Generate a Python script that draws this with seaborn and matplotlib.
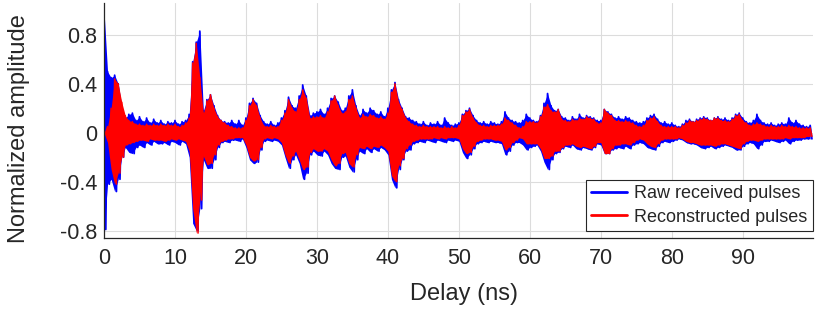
import numpy as np
import pandas as pd
import matplotlib
matplotlib.use("Agg")
import matplotlib.pyplot as plt
import seaborn as sns

# Envelope of the received pulse trains, every 0.5 ns
delay_ns = np.arange(0, 100, 0.5)

raw_hi = [
    1.00, 0.50, 0.45, 0.47, 0.40, 0.22, 0.12, 0.15, 0.16, 0.10, 0.13, 0.09, 0.12, 0.08, 0.11, 0.08, 0.10, 0.07, 0.09, 0.08,
    0.10, 0.07, 0.09, 0.10, 0.15, 0.58, 0.74, 0.83, 0.18, 0.27, 0.31, 0.22, 0.14, 0.10, 0.09, 0.08, 0.10, 0.07, 0.10, 0.06,
    0.12, 0.24, 0.28, 0.24, 0.14, 0.09, 0.07, 0.09, 0.06, 0.08, 0.12, 0.18, 0.29, 0.22, 0.20, 0.30, 0.39, 0.30, 0.14, 0.16,
    0.17, 0.19, 0.15, 0.20, 0.28, 0.30, 0.25, 0.18, 0.20, 0.30, 0.35, 0.22, 0.14, 0.19, 0.16, 0.20, 0.18, 0.15, 0.17, 0.13,
    0.20, 0.35, 0.41, 0.27, 0.20, 0.13, 0.12, 0.10, 0.09, 0.07, 0.09, 0.06, 0.08, 0.07, 0.09, 0.06, 0.12, 0.08, 0.06, 0.07,
    0.08, 0.15, 0.18, 0.20, 0.14, 0.10, 0.08, 0.09, 0.07, 0.09, 0.08, 0.07, 0.09, 0.17, 0.12, 0.10, 0.09, 0.08, 0.10, 0.15,
    0.12, 0.10, 0.09, 0.14, 0.24, 0.32, 0.22, 0.18, 0.19, 0.13, 0.12, 0.10, 0.13, 0.11, 0.15, 0.12, 0.14, 0.13, 0.12, 0.10,
    0.10, 0.19, 0.17, 0.15, 0.12, 0.13, 0.11, 0.13, 0.12, 0.10, 0.09, 0.08, 0.09, 0.12, 0.14, 0.15, 0.11, 0.08, 0.09, 0.07,
    0.08, 0.06, 0.05, 0.07, 0.10, 0.11, 0.09, 0.11, 0.12, 0.13, 0.12, 0.10, 0.12, 0.13, 0.11, 0.12, 0.10, 0.12, 0.15, 0.16,
    0.12, 0.09, 0.08, 0.10, 0.15, 0.10, 0.08, 0.07, 0.08, 0.06, 0.07, 0.08, 0.07, 0.12, 0.08, 0.10, 0.07, 0.06, 0.05, 0.06,
]
raw_lo = [
    -0.79, -0.42, -0.38, -0.48, -0.38, -0.20, -0.12, -0.16, -0.17, -0.12, -0.10, -0.12, -0.08, -0.10, -0.07, -0.09, -0.09, -0.08, -0.10, -0.07,
    -0.08, -0.10, -0.07, -0.09, -0.20, -0.74, -0.80, -0.62, -0.22, -0.29, -0.29, -0.22, -0.12, -0.08, -0.07, -0.08, -0.06, -0.06, -0.07, -0.05,
    -0.12, -0.22, -0.25, -0.24, -0.14, -0.07, -0.06, -0.07, -0.06, -0.07, -0.10, -0.20, -0.29, -0.22, -0.18, -0.25, -0.38, -0.33, -0.18, -0.15,
    -0.18, -0.19, -0.15, -0.18, -0.25, -0.29, -0.30, -0.20, -0.19, -0.28, -0.32, -0.22, -0.15, -0.17, -0.13, -0.16, -0.13, -0.15, -0.12, -0.14,
    -0.18, -0.38, -0.45, -0.30, -0.22, -0.15, -0.14, -0.09, -0.08, -0.07, -0.08, -0.06, -0.07, -0.08, -0.06, -0.07, -0.08, -0.06, -0.07, -0.06,
    -0.07, -0.16, -0.21, -0.18, -0.13, -0.09, -0.08, -0.07, -0.08, -0.07, -0.08, -0.08, -0.09, -0.18, -0.15, -0.10, -0.08, -0.08, -0.10, -0.14,
    -0.12, -0.11, -0.10, -0.15, -0.24, -0.30, -0.22, -0.17, -0.16, -0.13, -0.11, -0.12, -0.10, -0.13, -0.14, -0.12, -0.13, -0.14, -0.12, -0.09,
    -0.10, -0.17, -0.17, -0.14, -0.13, -0.12, -0.13, -0.11, -0.13, -0.10, -0.09, -0.08, -0.09, -0.12, -0.13, -0.14, -0.11, -0.08, -0.07, -0.08,
    -0.07, -0.06, -0.05, -0.06, -0.08, -0.09, -0.09, -0.10, -0.12, -0.13, -0.12, -0.11, -0.13, -0.12, -0.11, -0.10, -0.11, -0.12, -0.14, -0.14,
    -0.11, -0.09, -0.08, -0.09, -0.13, -0.10, -0.07, -0.07, -0.06, -0.07, -0.08, -0.07, -0.06, -0.09, -0.07, -0.06, -0.06, -0.05, -0.05, -0.05,
]
rec_hi = [
    0.00, 0.05, 0.20, 0.44, 0.40, 0.25, 0.14, 0.10, 0.09, 0.07, 0.07, 0.06, 0.07, 0.06, 0.07, 0.06, 0.07, 0.06, 0.07, 0.06,
    0.07, 0.05, 0.06, 0.08, 0.12, 0.57, 0.73, 0.45, 0.16, 0.26, 0.31, 0.20, 0.13, 0.10, 0.08, 0.06, 0.05, 0.04, 0.04, 0.04,
    0.10, 0.22, 0.27, 0.22, 0.12, 0.06, 0.05, 0.06, 0.05, 0.05, 0.10, 0.16, 0.27, 0.20, 0.17, 0.27, 0.35, 0.28, 0.12, 0.13,
    0.13, 0.14, 0.12, 0.17, 0.26, 0.30, 0.22, 0.16, 0.17, 0.27, 0.30, 0.20, 0.12, 0.15, 0.13, 0.15, 0.14, 0.12, 0.13, 0.11,
    0.16, 0.33, 0.40, 0.25, 0.19, 0.12, 0.09, 0.07, 0.06, 0.05, 0.06, 0.05, 0.05, 0.05, 0.05, 0.04, 0.05, 0.04, 0.05, 0.04,
    0.06, 0.14, 0.17, 0.19, 0.12, 0.08, 0.06, 0.06, 0.05, 0.06, 0.06, 0.06, 0.07, 0.12, 0.10, 0.08, 0.06, 0.04, 0.05, 0.09,
    0.09, 0.09, 0.08, 0.13, 0.21, 0.23, 0.18, 0.17, 0.19, 0.11, 0.10, 0.09, 0.11, 0.10, 0.12, 0.11, 0.13, 0.12, 0.11, 0.08,
    0.08, 0.19, 0.16, 0.14, 0.10, 0.10, 0.09, 0.10, 0.09, 0.08, 0.06, 0.05, 0.06, 0.10, 0.12, 0.13, 0.09, 0.06, 0.05, 0.05,
    0.05, 0.05, 0.04, 0.06, 0.08, 0.10, 0.09, 0.10, 0.11, 0.12, 0.11, 0.10, 0.12, 0.12, 0.10, 0.10, 0.09, 0.11, 0.14, 0.15,
    0.10, 0.08, 0.06, 0.07, 0.08, 0.07, 0.06, 0.05, 0.06, 0.05, 0.05, 0.06, 0.05, 0.06, 0.05, 0.05, 0.04, 0.04, 0.04, 0.04,
]
rec_lo = [
    -0.00, -0.08, -0.30, -0.42, -0.33, -0.20, -0.10, -0.09, -0.08, -0.07, -0.06, -0.06, -0.07, -0.05, -0.06, -0.06, -0.06, -0.07, -0.06, -0.05,
    -0.06, -0.05, -0.06, -0.07, -0.15, -0.62, -0.82, -0.55, -0.19, -0.26, -0.25, -0.18, -0.10, -0.07, -0.06, -0.05, -0.05, -0.04, -0.04, -0.04,
    -0.10, -0.20, -0.23, -0.22, -0.12, -0.05, -0.04, -0.05, -0.04, -0.05, -0.08, -0.18, -0.25, -0.19, -0.15, -0.22, -0.30, -0.28, -0.16, -0.13,
    -0.15, -0.15, -0.13, -0.15, -0.22, -0.27, -0.25, -0.17, -0.16, -0.25, -0.28, -0.18, -0.12, -0.13, -0.11, -0.13, -0.11, -0.12, -0.10, -0.12,
    -0.15, -0.35, -0.40, -0.27, -0.21, -0.13, -0.10, -0.07, -0.06, -0.05, -0.05, -0.05, -0.05, -0.04, -0.05, -0.04, -0.05, -0.04, -0.04, -0.04,
    -0.05, -0.13, -0.17, -0.16, -0.11, -0.07, -0.06, -0.05, -0.05, -0.05, -0.06, -0.06, -0.07, -0.14, -0.12, -0.08, -0.06, -0.04, -0.05, -0.09,
    -0.09, -0.09, -0.09, -0.13, -0.21, -0.21, -0.19, -0.15, -0.15, -0.12, -0.10, -0.10, -0.09, -0.11, -0.12, -0.11, -0.12, -0.13, -0.11, -0.08,
    -0.08, -0.17, -0.17, -0.13, -0.10, -0.10, -0.09, -0.09, -0.10, -0.08, -0.06, -0.05, -0.06, -0.09, -0.11, -0.12, -0.09, -0.06, -0.05, -0.05,
    -0.05, -0.05, -0.04, -0.05, -0.07, -0.08, -0.08, -0.09, -0.10, -0.10, -0.10, -0.10, -0.11, -0.10, -0.09, -0.09, -0.10, -0.11, -0.12, -0.13,
    -0.09, -0.07, -0.06, -0.06, -0.07, -0.06, -0.05, -0.05, -0.05, -0.05, -0.05, -0.05, -0.04, -0.05, -0.04, -0.04, -0.04, -0.04, -0.03, -0.03,
]

series_names = ["Raw received pulses", "Reconstructed pulses"]
series_colors = ["#0000ff", "#ff0000"]
x_ticks = [0, 10, 20, 30, 40, 50, 60, 70, 80, 90]
y_ticks = [-0.8, -0.4, 0, 0.4, 0.8]
y_tick_labels = ["-0.8", "-0.4", "0", "0.4", "0.8"]


def oscillation(hi, lo, name):
    # alternate between the upper and lower envelope read at each delay
    t = np.concatenate([delay_ns, delay_ns + 0.25])
    a = np.concatenate([hi, lo])
    order = np.argsort(t, kind="stable")
    return pd.DataFrame({"Delay": t[order], "Amplitude": a[order], "Series": name})


df = pd.concat([oscillation(raw_hi, raw_lo, series_names[0]),
                oscillation(rec_hi, rec_lo, series_names[1])], ignore_index=True)

sns.set_style("white")
plt.rcParams["font.family"] = ["Liberation Sans", "DejaVu Sans"]
text_color = "#262626"

fig = plt.figure(figsize=(8.3, 3.15), dpi=100)
ax = fig.add_axes([0.1253, 0.2444, 0.8542, 0.7461])

# solid body of each pulse train (filled between its envelopes)
ax.fill_between(delay_ns, raw_lo, raw_hi, color=series_colors[0], lw=0, zorder=2)
ax.fill_between(delay_ns, rec_lo, rec_hi, color=series_colors[1], lw=0, zorder=3.5)

sns.lineplot(data=df[df["Series"] == series_names[0]], x="Delay", y="Amplitude",
             color=series_colors[0], sort=False, estimator=None,
             linewidth=1.3, ax=ax, label=series_names[0], zorder=2.5)
sns.lineplot(data=df[df["Series"] == series_names[1]], x="Delay", y="Amplitude",
             color=series_colors[1], sort=False, estimator=None,
             linewidth=1.1, ax=ax, label=series_names[1], zorder=4)

ax.set_xlim(0, 99.9)
ax.set_ylim(-0.86, 1.06)
ax.set_xticks(x_ticks)
ax.set_yticks(y_ticks)
ax.set_yticklabels(y_tick_labels)
ax.grid(True, color="#dcdcdc", linewidth=0.8)
ax.set_axisbelow(True)
for s in ["top", "right"]:
    ax.spines[s].set_visible(False)
for s in ["left", "bottom"]:
    ax.spines[s].set_color(text_color)
    ax.spines[s].set_linewidth(0.9)
    ax.spines[s].set_zorder(5)
ax.tick_params(axis="both", direction="in", length=5, width=0.8,
               colors=text_color, labelsize=15.5, labelcolor=text_color)
ax.tick_params(axis="x", pad=7.5)
ax.tick_params(axis="y", pad=5)
ax.set_xlabel("Delay (ns)", fontsize=17, color=text_color)
ax.set_ylabel("Normalized amplitude", fontsize=17, color=text_color)
ax.xaxis.set_label_coords(0.508, -0.19)
ax.yaxis.set_label_coords(-0.105, 0.465)

leg = ax.legend(loc="lower right", bbox_to_anchor=(1.0, 0.03), fontsize=13,
                frameon=True, fancybox=False, edgecolor=text_color, framealpha=1,
                borderpad=0.3, handlelength=2.0, handletextpad=0.4,
                labelspacing=0.35, borderaxespad=0.0)
leg.get_frame().set_linewidth(0.8)
leg.set_zorder(10)
for line in leg.get_lines():
    line.set_linewidth(2)

fig.savefig("out.png", dpi=100)
